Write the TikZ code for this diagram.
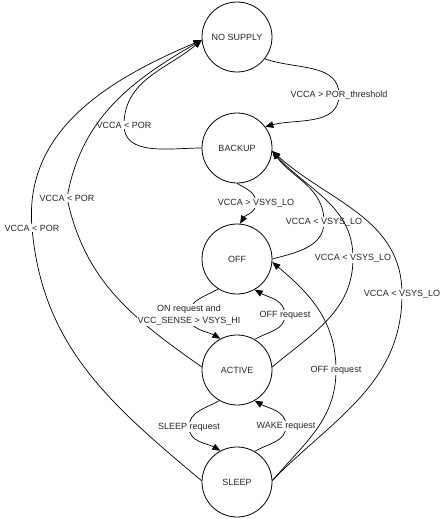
\documentclass[tikz,border=0pt]{standalone}
\usepackage{fontspec}
\setmainfont{Liberation Sans}
\usetikzlibrary{arrows.meta}
\begin{document}
\begin{tikzpicture}[x=1pt,y=-1pt,
  state/.style={circle,draw,line width=0.8pt,minimum size=70pt,inner sep=0pt,font=\fontsize{9}{11}\selectfont,text=black!85},
  tr/.style={draw,line width=0.7pt,-{Triangle[length=8pt,width=6.5pt]}},
  lbl/.style={fill=white,inner sep=1pt,font=\fontsize{9}{12}\selectfont,text=black!85,align=center}]
\useasboundingbox (0,0) rectangle (444,519);
\node[state] (ns) at (237,37) {NO SUPPLY};
\node[state] (bk) at (237,148) {BACKUP};
\node[state] (off) at (237,259) {OFF};
\node[state] (act) at (237,370) {ACTIVE};
\node[state] (sl) at (237,482) {SLEEP};
% NO SUPPLY -> BACKUP
\path[tr] (ns.-38) to[out=-20,in=90] (339,95) node[lbl] {VCCA > POR\_threshold} to[out=-90,in=15] (bk.37);
% BACKUP -> NO SUPPLY
\path[tr] (bk.180) to[out=180,in=-90] (124,125) node[lbl] {VCCA < POR} to[out=90,in=220] (ns.185);
% ACTIVE -> NO SUPPLY
\path[tr] (act.175) to[out=145,in=-78] (67,198) node[lbl] {VCCA < POR} to[out=80,in=210] (ns.185);
% SLEEP -> NO SUPPLY
\path[tr] (sl.178) to[out=140,in=-85] (32,228) node[lbl] {VCCA < POR} to[out=95,in=203] (ns.185);
% BACKUP -> OFF
\path[tr] (bk.-90) to[out=-30,in=90] (256,203) node[lbl] {VCCA > VSYS\_LO} to[out=-90,in=60] (off.85);
% OFF -> BACKUP
\path[tr] (off.0) to[out=15,in=-90] (324,222) node[lbl] {VCCA < VSYS\_LO} to[out=90,in=-53] (bk.-5);
% ACTIVE -> BACKUP
\path[tr] (act.5) to[out=40,in=-90] (353,258) node[lbl] {VCCA < VSYS\_LO} to[out=90,in=-48] (bk.-5);
% SLEEP -> BACKUP
\path[tr] (sl.3) to[out=45,in=-90] (402,294) node[lbl] {VCCA < VSYS\_LO} to[out=90,in=-42] (bk.-5);
% OFF -> ACTIVE
\path[tr] (off.-122) to[out=-150,in=90] (189,315) node[lbl] {ON request and\\VCC\_SENSE > VSYS\_HI} to[out=-90,in=150] (act.118);
% ACTIVE -> OFF
\path[tr] (act.60) to[out=30,in=-90] (285,315) node[lbl] {OFF request} to[out=90,in=-30] (off.-60);
% ACTIVE -> SLEEP
\path[tr] (act.-120) to[out=-150,in=90] (189,427) node[lbl] {SLEEP request} to[out=-90,in=150] (sl.118);
% SLEEP -> ACTIVE
\path[tr] (sl.60) to[out=30,in=-90] (286,426) node[lbl] {WAKE request} to[out=90,in=-30] (act.-60);
% SLEEP -> OFF
\path[tr] (sl.2) to[out=50,in=-90] (336,370) node[lbl] {OFF request} to[out=90,in=-40] (off.-5);
\end{tikzpicture}
\end{document}
